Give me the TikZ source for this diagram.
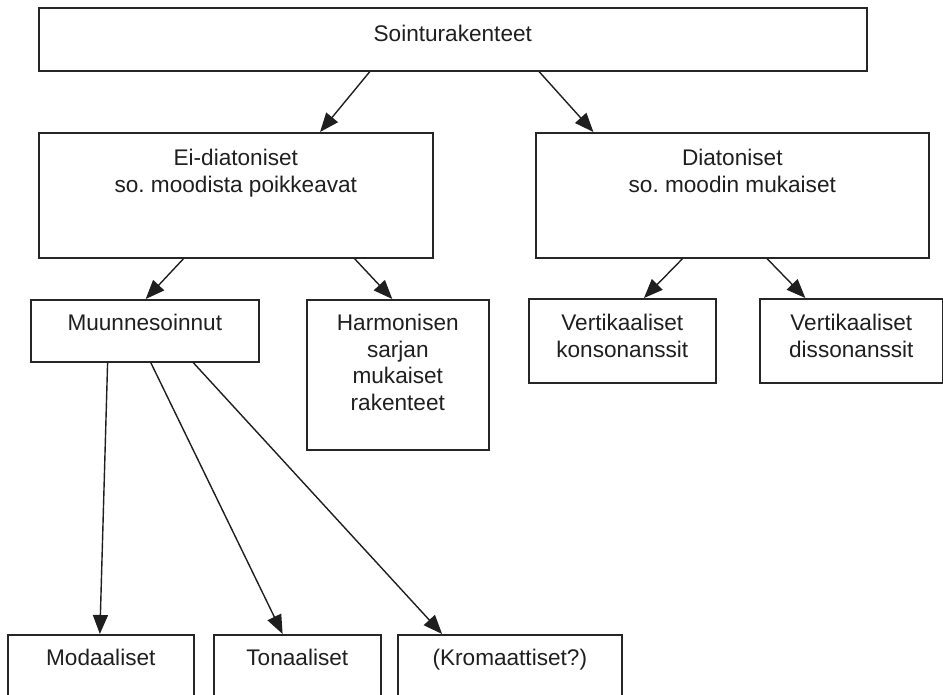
\documentclass[tikz,border=0pt]{standalone}
\usepackage{fontspec}
\setmainfont{Liberation Sans}
\usetikzlibrary{positioning, calc, arrows.meta}

\begin{document}
\begin{tikzpicture}[x=1pt, y=-1pt,
  box/.style={draw=black!85, line width=1.6pt, inner sep=0pt, anchor=north west},
  lbl/.style={inner sep=0pt, align=center, text=black!88, font=\fontsize{22.6pt}{26.5pt}\selectfont\frenchspacing},
  link/.style={draw=black!88, line width=1.4pt, -{Triangle[length=19pt, width=15pt]}}]

% Frame (bottom row runs off the page)
\useasboundingbox (0,0) rectangle (943,695);
\clip (0,0) rectangle (943,695);

% Top level
\node[box, minimum width=828pt, minimum height=63pt] (root) at (38,7) {};
\node[lbl, below=18pt of root.north] (rootTxt) {Sointurakenteet};

% Second level
\node[box, minimum width=394pt, minimum height=125pt] (ei) at (38,132) {};
\node[lbl, below=17pt of ei.north] (eiTxt) {Ei-diatoniset\\so. moodista poikkeavat};
\node[box, minimum width=393pt, minimum height=125pt] (dia) at (535,132) {};
\node[lbl, below=17pt of dia.north] (diaTxt) {Diatoniset\\so. moodin mukaiset};

% Third level
\node[box, minimum width=228pt, minimum height=62pt] (muu) at (30,299) {};
\node[lbl, below=15pt of muu.north] (muuTxt) {Muunnesoinnut};
\node[box, minimum width=182pt, minimum height=150pt] (har) at (306,299) {};
\node[lbl, below=15pt of har.north] (harTxt) {Harmonisen\\sarjan\\mukaiset\\rakenteet};
\node[box, minimum width=187pt, minimum height=84pt] (vk) at (528,298) {};
\node[lbl, below=16pt of vk.north] (vkTxt) {Vertikaaliset\\konsonanssit};
\node[box, minimum width=183pt, minimum height=84pt] (vd) at (759,298) {};
\node[lbl, below=16pt of vd.north] (vdTxt) {Vertikaaliset\\dissonanssit};

% Bottom level
\node[box, minimum width=186pt, minimum height=100pt] (mod) at (7,634) {};
\node[lbl, below=15pt of mod.north] (modTxt) {Modaaliset};
\node[box, minimum width=167pt, minimum height=100pt] (ton) at (213,634) {};
\node[lbl, below=15pt of ton.north] (tonTxt) {Tonaaliset};
\node[box, minimum width=224pt, minimum height=100pt] (kro) at (397,634) {};
\node[lbl, below=15pt of kro.north] (kroTxt) {(Kromaattiset?)};

% Arrows
\draw[link] ($(root.south west)!0.40!(root.south east)$) -- ($(ei.north west)!0.713!(ei.north east)$);
\draw[link] ($(root.south west)!0.604!(root.south east)$) -- ($(dia.north west)!0.148!(dia.north east)$);
\draw[link] ($(ei.south west)!0.368!(ei.south east)$) -- ($(muu.north west)!0.504!(muu.north east)$);
\draw[link] ($(ei.south west)!0.80!(ei.south east)$) -- ($(har.north west)!0.47!(har.north east)$);
\draw[link] ($(dia.south west)!0.374!(dia.south east)$) -- ($(vk.north west)!0.615!(vk.north east)$);
\draw[link] ($(dia.south west)!0.588!(dia.south east)$) -- ($(vd.north west)!0.251!(vd.north east)$);
\draw[link] ($(muu.south west)!0.338!(muu.south east)$) -- ($(mod.north west)!0.495!(mod.north east)$);
\draw[link] ($(muu.south west)!0.526!(muu.south east)$) -- ($(ton.north west)!0.413!(ton.north east)$);
\draw[link] ($(muu.south west)!0.711!(muu.south east)$) -- ($(kro.north west)!0.20!(kro.north east)$);

\end{tikzpicture}
\end{document}
